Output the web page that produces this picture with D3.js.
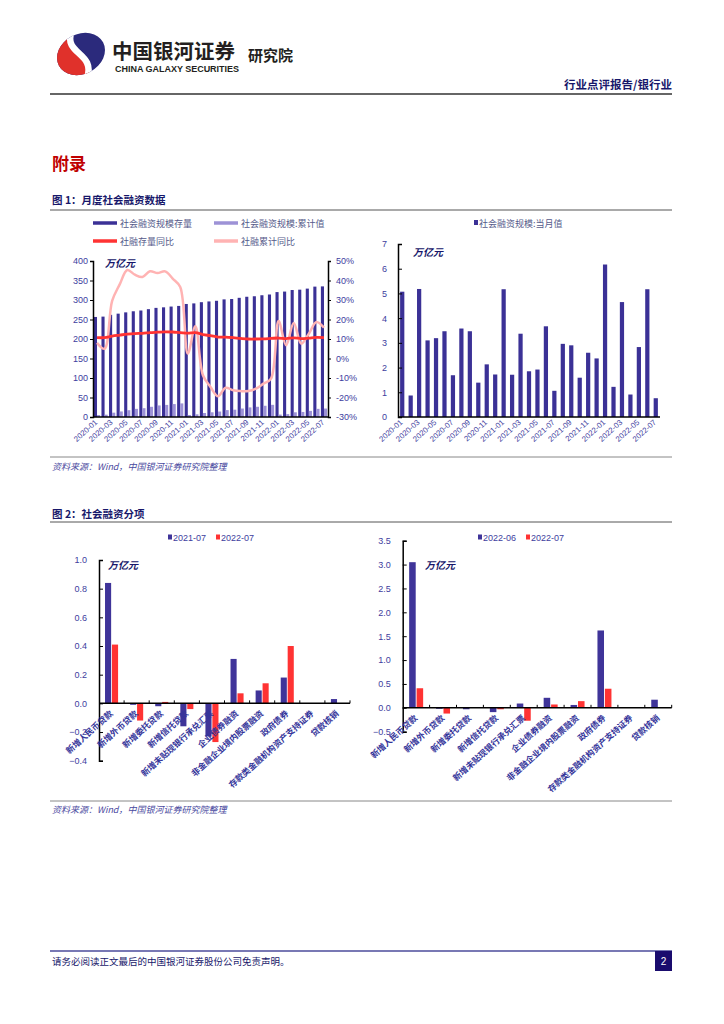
<!DOCTYPE html>
<html><head><meta charset="utf-8">
<script src="https://cdn.jsdelivr.net/npm/d3@7"></script>
<style>
body{margin:0;background:#fff}
svg{display:block}
text{font-family:"Liberation Sans",Arial,"Noto Sans CJK SC",sans-serif}
.cjk{font-family:"Noto Sans CJK SC",sans-serif}
</style>
</head><body>
<svg id="c" width="724" height="1024"></svg>
<script>
// ---------------- DATA ----------------
const months = ["2020-01","2020-02","2020-03","2020-04","2020-05","2020-06","2020-07","2020-08","2020-09","2020-10","2020-11","2020-12",
"2021-01","2021-02","2021-03","2021-04","2021-05","2021-06","2021-07","2021-08","2021-09","2021-10","2021-11","2021-12",
"2022-01","2022-02","2022-03","2022-04","2022-05","2022-06","2022-07"];
const tsfStock = [256.5,257.4,262.0,265.0,268.3,271.1,273.1,276.5,279.8,281.2,283.2,284.8,289.8,291.3,294.4,296.3,298.0,301.6,302.5,305.6,308.3,309.6,312.2,314.1,320.3,321.6,325.6,326.5,329.2,334.3,334.9];
const tsfCum = [5.07,5.94,11.12,14.22,17.41,20.88,22.57,26.15,29.62,31.01,33.14,34.86,5.17,6.88,10.25,12.10,14.02,17.69,18.75,21.71,24.61,26.20,28.80,31.17,6.17,7.39,12.04,12.95,15.74,20.91,21.67];
const stockYoY = [10.7,10.7,11.5,12.0,12.5,12.8,12.9,13.3,13.5,13.7,13.6,13.3,13.0,13.3,12.3,11.7,11.0,11.0,10.7,10.3,10.0,10.0,10.1,10.3,10.5,10.2,10.6,10.2,10.5,10.8,10.7];
const cumYoY = [8.0,5.0,29.5,38.0,45.4,43.0,41.8,44.7,43.8,44.7,41.0,36.7,2.5,16.5,-8.6,-14.6,-19.4,-15.0,-16.3,-16.7,-16.7,-15.5,-12.9,-10.3,19.2,6.8,18.2,7.6,12.7,18.7,15.8];
const tsfMonthly = [5.07,0.87,5.18,3.10,3.19,3.47,1.69,3.58,3.47,1.39,2.13,1.72,5.17,1.71,3.37,1.85,1.92,3.67,1.06,2.96,2.90,1.59,2.60,2.37,6.17,1.22,4.65,0.91,2.83,5.17,0.76];
const leftTicks = [0,50,100,150,200,250,300,350,400];
const rightTicks = [-30,-20,-10,0,10,20,30,40,50];
const monthlyTicks = [0,1,2,3,4,5,6,7];

const categories = ["新增人民币贷款","新增外币贷款","新增委托贷款","新增信托贷款","新增未贴现银行承兑汇票","企业债券融资","非金融企业境内股票融资","政府债券","存款类金融机构资产支持证券","贷款核销"];
const left2021_07 = [0.84,-0.01,-0.02,-0.16,-0.23,0.31,0.09,0.18,0.00,0.03];
const left2022_07 = [0.41,-0.12,0.01,-0.04,-0.27,0.07,0.14,0.40,0.00,0.00];
const right2022_06 = [3.05,-0.02,-0.03,-0.09,0.09,0.21,0.06,1.62,0.00,0.17];
const right2022_07 = [0.41,-0.12,0.00,-0.03,-0.27,0.07,0.14,0.40,0.00,0.00];
const fig2LeftTicks = [-0.4,-0.2,0.0,0.2,0.4,0.6,0.8,1.0];
const fig2RightTicks = [-0.5,0.0,0.5,1.0,1.5,2.0,2.5,3.0,3.5];

// ---------------- STYLE ----------------
const NAVY = "#3b3196", LAV = "#9d92d6", RED = "#ff3333", PINK = "#ffb3b3", TICK = "#3d3d9e", TITLE = "#17176a";
const svg = d3.select("#c");

// ---------------- HEADER ----------------
const defs = svg.append("defs");
defs.append("clipPath").attr("id","lc").append("ellipse").attr("rx",25).attr("ry",20);
const logo = svg.append("g").attr("transform","translate(81,54) rotate(-28)");
const lg = logo.append("g").attr("clip-path","url(#lc)");
lg.append("rect").attr("x",-30).attr("y",-30).attr("width",60).attr("height",60).attr("fill","#2b2a7c");
lg.append("path").attr("d","M-30,-30 L0,-30 C-16,-12 12,4 -6,30 L-30,30 Z").attr("fill","#e0312b");
lg.append("path").attr("d","M2,-24 C-16,-8 14,6 -6,24").attr("fill","none").attr("stroke","#fff").attr("stroke-width",6.5);
svg.append("text").attr("class","cjk").attr("x",112).attr("y",59).attr("font-size",20.5).attr("font-weight","bold").attr("fill","#231f20").text("中国银河证券");
svg.append("text").attr("x",115).attr("y",72).attr("font-size",9).attr("font-weight","bold").attr("fill","#231f20").attr("textLength",124).text("CHINA GALAXY SECURITIES");
svg.append("text").attr("class","cjk").attr("x",248).attr("y",61).attr("font-size",15).attr("font-weight","bold").attr("fill","#231f20").text("研究院");
svg.append("text").attr("class","cjk").attr("x",672).attr("y",89).attr("text-anchor","end").attr("font-size",11.5).attr("font-weight","bold").attr("fill",TITLE).text("行业点评报告/银行业");
svg.append("line").attr("x1",50).attr("x2",672).attr("y1",94).attr("y2",94).attr("stroke","#333").attr("stroke-width",1.5);

svg.append("text").attr("class","cjk").attr("x",52).attr("y",170).attr("font-size",17).attr("font-weight","bold").attr("fill","#c00000").text("附录");

function figTitle(y, t, lineY){
  svg.append("text").attr("class","cjk").attr("x",52).attr("y",y).attr("font-size",10.5).attr("font-weight","bold").attr("fill",TITLE).text(t);
  svg.append("line").attr("x1",50).attr("x2",672).attr("y1",lineY).attr("y2",lineY).attr("stroke","#555").attr("stroke-width",1);
}
function source(lineY, y){
  svg.append("line").attr("x1",50).attr("x2",672).attr("y1",lineY).attr("y2",lineY).attr("stroke","#888").attr("stroke-width",1);
  svg.append("text").attr("class","cjk").attr("x",52).attr("y",y).attr("font-size",9).attr("font-style","italic").attr("fill","#4a4aa0").text("资料来源：Wind，中国银河证券研究院整理");
}
figTitle(204, "图 1：月度社会融资数据", 210);
source(457, 470);
figTitle(518, "图 2：社会融资分项", 522);
source(801, 813);

// footer
svg.append("line").attr("x1",50).attr("x2",672).attr("y1",951).attr("y2",951).attr("stroke","#4b4b9b").attr("stroke-width",1.5);
svg.append("text").attr("class","cjk").attr("x",52).attr("y",965).attr("font-size",9.5).attr("fill",TITLE).text("请务必阅读正文最后的中国银河证券股份公司免责声明。");
svg.append("rect").attr("x",655).attr("y",951).attr("width",17).attr("height",20).attr("fill","#1a0c6e");
svg.append("text").attr("x",663.5).attr("y",965).attr("text-anchor","middle").attr("font-size",10).attr("fill","#fff").text("2");

// ---------------- FIG 1 LEFT ----------------
{
  const x0=93, x1=328, yTop=261, yBot=417;
  const x = d3.scaleBand().domain(months).range([x0,x1]).paddingInner(0.18).paddingOuter(0.12);
  const xs = d3.scaleBand().domain(["s","c"]).range([0,x.bandwidth()]);
  const yL = d3.scaleLinear().domain([0,400]).range([yBot,yTop]);
  const yR = d3.scaleLinear().domain([-30,50]).range([yBot,yTop]);
  const g = svg.append("g");
  g.selectAll(".bs").data(months).join("rect").attr("x",m=>x(m)+xs("s")).attr("width",xs.bandwidth())
    .attr("y",(m,i)=>yL(tsfStock[i])).attr("height",(m,i)=>yBot-yL(tsfStock[i])).attr("fill",NAVY);
  g.selectAll(".bc").data(months).join("rect").attr("x",m=>x(m)+xs("c")).attr("width",xs.bandwidth())
    .attr("y",(m,i)=>yL(tsfCum[i])).attr("height",(m,i)=>yBot-yL(tsfCum[i])).attr("fill",LAV);
  const lineOf = arr => d3.line().x((d,i)=>x(months[i])+x.bandwidth()/2).y(d=>yR(d)).curve(d3.curveCatmullRom.alpha(0.5))(arr);
  g.append("path").attr("d",lineOf(cumYoY)).attr("fill","none").attr("stroke",PINK).attr("stroke-width",2.5);
  g.append("path").attr("d",lineOf(stockYoY)).attr("fill","none").attr("stroke",RED).attr("stroke-width",2.8);
  const ax = g.append("g").attr("transform",`translate(${x0},0)`).call(d3.axisLeft(yL).tickValues(leftTicks).tickSize(3).tickPadding(2));
  const ar = g.append("g").attr("transform",`translate(${x1},0)`).call(d3.axisRight(yR).tickValues(rightTicks).tickSize(3).tickPadding(5).tickFormat(d=>d+"%"));
  [ax,ar].forEach(a=>{a.select(".domain").attr("stroke","#000").attr("stroke-width",1.5);a.selectAll("line").attr("stroke","#000");
    a.selectAll("text").attr("font-size",9).attr("fill",TICK).attr("font-family","Liberation Sans, Arial");});
  g.append("line").attr("x1",x0).attr("x2",x1).attr("y1",yBot).attr("y2",yBot).attr("stroke","#000").attr("stroke-width",1.5);
  g.selectAll(".xl").data(months.filter((m,i)=>i%2===0)).join("text")
    .attr("transform",m=>`translate(${x(m)+x.bandwidth()/2+1},${yBot+6}) rotate(-42)`)
    .attr("text-anchor","end").attr("font-size",7.8).attr("fill",TICK).text(m=>m);
  g.append("text").attr("class","cjk").attr("x",105).attr("y",267).attr("font-size",10).attr("font-weight","bold").attr("font-style","italic").attr("fill",TITLE).text("万亿元");
  // legend
  const leg = [[93,223,NAVY,"社会融资规模存量"],[214,223,LAV,"社会融资规模:累计值"],[93,241,RED,"社融存量同比"],[214,241,PINK,"社融累计同比"]];
  leg.forEach(([lx,ly,c,t])=>{
    g.append("line").attr("x1",lx).attr("x2",lx+24).attr("y1",ly).attr("y2",ly).attr("stroke",c).attr("stroke-width",3.5);
    g.append("text").attr("class","cjk").attr("x",lx+27).attr("y",ly+3.5).attr("font-size",9).attr("fill","#555a8a").text(t);
  });
}

// ---------------- FIG 1 RIGHT ----------------
{
  const x0=398, x1=660, yTop=244, yBot=417;
  const x = d3.scaleBand().domain(months).range([x0,x1]).paddingInner(0.5).paddingOuter(0.25);
  const y = d3.scaleLinear().domain([0,7]).range([yBot,yTop]);
  const g = svg.append("g");
  g.selectAll("rect").data(months).join("rect").attr("x",m=>x(m)).attr("width",x.bandwidth())
    .attr("y",(m,i)=>y(tsfMonthly[i])).attr("height",(m,i)=>yBot-y(tsfMonthly[i])).attr("fill",NAVY);
  const ay = g.append("g").attr("transform",`translate(${x0},0)`).call(d3.axisLeft(y).tickValues(monthlyTicks).tickSize(-4).tickPadding(11).tickFormat(d3.format("d")));
  ay.select(".domain").attr("stroke","#000").attr("stroke-width",1.5);
  ay.selectAll("line").attr("stroke","#000");
  ay.selectAll("text").attr("font-size",9).attr("fill",TICK);
  g.append("line").attr("x1",x0).attr("x2",x1).attr("y1",yBot).attr("y2",yBot).attr("stroke","#000").attr("stroke-width",1.5);
  g.selectAll(".xl").data(months.filter((m,i)=>i%2===0)).join("text")
    .attr("transform",m=>`translate(${x(m)+x.bandwidth()/2+1},${yBot+6}) rotate(-42)`)
    .attr("text-anchor","end").attr("font-size",7.8).attr("fill",TICK).text(m=>m);
  g.append("text").attr("class","cjk").attr("x",413).attr("y",256).attr("font-size",10).attr("font-weight","bold").attr("font-style","italic").attr("fill",TITLE).text("万亿元");
  g.append("rect").attr("x",474).attr("y",220).attr("width",4).attr("height",5).attr("fill",NAVY);
  g.append("text").attr("class","cjk").attr("x",479).attr("y",226.5).attr("font-size",9).attr("fill","#555a8a").text("社会融资规模:当月值");
}

// ---------------- FIG 2 ----------------
function fig2(opts){
  const {x0,x1,yTop,yBot,dom,ticks,a,b,names,legX,unitX,unitY,fmt} = opts;
  const x = d3.scaleBand().domain(categories).range([x0,x1]);
  const xs = d3.scaleBand().domain(["a","b"]).range([x.bandwidth()*0.24,x.bandwidth()*0.76]).paddingInner(0.12);
  const y = d3.scaleLinear().domain(dom).range([yBot,yTop]);
  const g = svg.append("g");
  const y0 = y(0);
  [[a,"a","#3f3499"],[b,"b",RED]].forEach(([arr,k,c])=>{
    g.selectAll(".b"+k).data(categories).join("rect").attr("x",cat=>x(cat)+xs(k)).attr("width",xs.bandwidth())
      .attr("y",(cat,i)=>Math.min(y(arr[i]),y0)).attr("height",(cat,i)=>Math.abs(y(arr[i])-y0)).attr("fill",c);
  });
  const ay = g.append("g").attr("transform",`translate(${x0},0)`).call(d3.axisLeft(y).tickValues(ticks).tickSize(-4).tickPadding(12).tickFormat(fmt));
  ay.select(".domain").attr("stroke","#000").attr("stroke-width",1.5);
  ay.selectAll("line").attr("stroke","#000");
  ay.selectAll("text").attr("font-size",9).attr("fill",TICK);
  g.append("line").attr("x1",x0).attr("x2",x1).attr("y1",y0).attr("y2",y0).attr("stroke","#000").attr("stroke-width",1.5);
  g.selectAll(".tk").data(categories).join("line").attr("x1",cat=>x(cat)+x.bandwidth()).attr("x2",cat=>x(cat)+x.bandwidth())
    .attr("y1",y0).attr("y2",y0-3).attr("stroke","#000");
  g.selectAll(".cl").data(categories).join("text").attr("class","cjk")
    .attr("transform",cat=>`translate(${x(cat)+x.bandwidth()/2+2},${y0+11}) rotate(-42)`)
    .attr("text-anchor","end").attr("font-size",8.5).attr("font-weight","bold").attr("fill","#34349a").text(cat=>cat);
  g.append("text").attr("class","cjk").attr("x",unitX).attr("y",unitY).attr("font-size",10).attr("font-weight","bold").attr("font-style","italic").attr("fill",TITLE).text("万亿元");
  g.append("rect").attr("x",legX).attr("y",534.5).attr("width",4).attr("height",5).attr("fill","#3f3499");
  g.append("text").attr("x",legX+5).attr("y",540.5).attr("font-size",9).attr("fill",TICK).text(names[0]);
  g.append("rect").attr("x",legX+48).attr("y",534.5).attr("width",4).attr("height",5).attr("fill",RED);
  g.append("text").attr("x",legX+53).attr("y",540.5).attr("font-size",9).attr("fill",TICK).text(names[1]);
}
fig2({x0:99,x1:350,yTop:560,yBot:760.7,dom:[-0.4,1.0],ticks:fig2LeftTicks,a:left2021_07,b:left2022_07,names:["2021-07","2022-07"],legX:168,unitX:108,unitY:569,fmt:d3.format(".1f")});
fig2({x0:402.7,x1:671.7,yTop:540.7,yBot:731.7,dom:[-0.5,3.5],ticks:fig2RightTicks,a:right2022_06,b:right2022_07,names:["2022-06","2022-07"],legX:478,unitX:425,unitY:569,fmt:d3.format(".1f")});
</script>
</body></html>
